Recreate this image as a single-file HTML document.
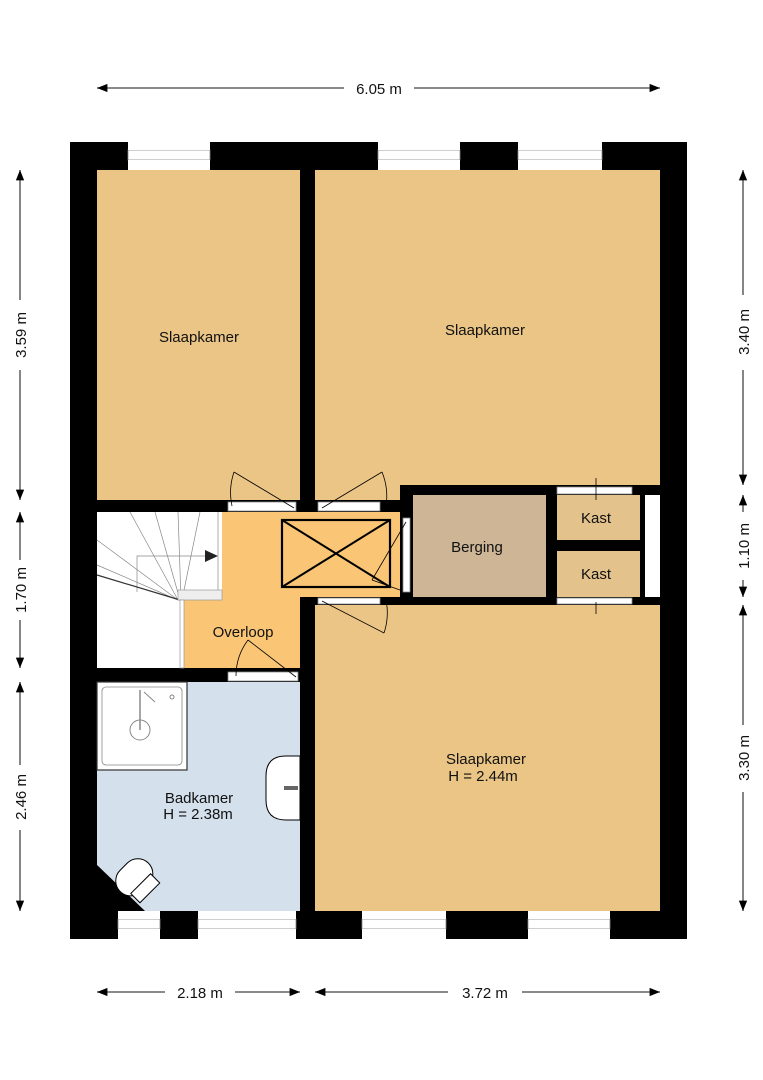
<!DOCTYPE html>
<html><head><meta charset="utf-8"><style>
html,body{margin:0;padding:0;background:#fff;}
svg{display:block;}
text{font-family:"Liberation Sans",sans-serif;}
</style></head><body>
<svg width="763" height="1080" viewBox="0 0 763 1080" xmlns="http://www.w3.org/2000/svg">
<defs>
<marker id="a" viewBox="0 0 10 10" refX="10" refY="5" markerWidth="8" markerHeight="8" orient="auto-start-reverse"><path d="M0,1 L10,5 L0,9 z" fill="#000"/></marker>
</defs>
<rect x="0" y="0" width="763" height="1080" fill="#fff"/>
<rect x="70" y="142" width="617" height="797" fill="#000"/>
<rect x="97" y="170" width="203" height="330" fill="#EBC586"/>
<rect x="315" y="170" width="345" height="315" fill="#EBC586"/>
<rect x="315" y="480" width="85" height="20" fill="#EBC586"/>
<rect x="315" y="605" width="345" height="306" fill="#EBC586"/>
<rect x="97" y="682" width="203" height="229" fill="#D4E0EC"/>
<path d="M222,512 L400,512 L400,597 L300,597 L300,668 L182,668 L182,600 L222,600 Z" fill="#FAC676"/>
<rect x="97" y="512" width="125" height="156" fill="#fff"/>
<rect x="182" y="600" width="118" height="68" fill="#FAC676"/>
<g stroke="#888" stroke-width="0.7" fill="none">
<line x1="130" y1="512" x2="178" y2="600"/><line x1="155" y1="512" x2="180" y2="600"/>
<line x1="178" y1="512" x2="181" y2="600"/><line x1="200" y1="512" x2="182" y2="600"/>
<line x1="97" y1="540" x2="178" y2="600"/><line x1="97" y1="565" x2="178" y2="600"/>
<line x1="218" y1="512" x2="218" y2="598"/>
<polyline points="137,592 137,556 205,556"/>
</g>
<line x1="97" y1="575" x2="180" y2="600" stroke="#333" stroke-width="1.2"/>
<path d="M205,550 L218,556 L205,562 Z" fill="#222"/>
<rect x="178" y="590" width="44" height="10" fill="#eee" stroke="#999" stroke-width="0.7"/>
<rect x="180" y="600" width="4" height="68" fill="#fff" stroke="#999" stroke-width="0.7"/>
<rect x="282" y="520" width="108" height="67" fill="none" stroke="#000" stroke-width="2.2"/>
<line x1="282" y1="520" x2="390" y2="587" stroke="#000" stroke-width="2"/>
<line x1="390" y1="520" x2="282" y2="587" stroke="#000" stroke-width="2"/>
<rect x="413" y="495" width="133" height="102" fill="#CDB595"/>
<rect x="557" y="495" width="83" height="45" fill="#E3C28C"/>
<rect x="557" y="551" width="83" height="46" fill="#E3C28C"/>
<rect x="645" y="495" width="15" height="102" fill="#fff"/>
<g fill="#fff" stroke="#888" stroke-width="0.8">
<rect x="128" y="150" width="82" height="10"/><rect x="378" y="150" width="82" height="10"/><rect x="518" y="150" width="84" height="10"/>
<rect x="118" y="919" width="42" height="10"/><rect x="198" y="919" width="98" height="10"/><rect x="362" y="919" width="84" height="10"/><rect x="528" y="919" width="82" height="10"/>
<rect x="557" y="487" width="75" height="7"/><rect x="557" y="598" width="75" height="6"/>
<rect x="228" y="502" width="68" height="9"/><rect x="318" y="502" width="62" height="9"/>
<rect x="318" y="598" width="62" height="6"/><rect x="228" y="672" width="70" height="9"/>
<rect x="403" y="518" width="7" height="74"/>
</g>
<g fill="#fff">
<rect x="128" y="142" width="82" height="8"/><rect x="128" y="160" width="82" height="10"/>
<rect x="378" y="142" width="82" height="8"/><rect x="378" y="160" width="82" height="10"/>
<rect x="518" y="142" width="84" height="8"/><rect x="518" y="160" width="84" height="10"/>
<rect x="118" y="929" width="42" height="10"/><rect x="198" y="929" width="98" height="10"/><rect x="362" y="929" width="84" height="10"/><rect x="528" y="929" width="82" height="10"/>
<rect x="118" y="911" width="42" height="8"/><rect x="198" y="911" width="98" height="8"/><rect x="362" y="911" width="84" height="8"/><rect x="528" y="911" width="82" height="8"/>
</g>
<g stroke="#000" stroke-width="0.8" fill="none">
<line x1="294" y1="508" x2="234" y2="472"/><path d="M234,472 A64,64 0 0 0 232,506"/>
<line x1="322" y1="508" x2="382" y2="472"/><path d="M382,472 A64,64 0 0 1 386,506"/>
<line x1="322" y1="601" x2="384" y2="633"/><path d="M384,633 A64,64 0 0 0 386,600"/>
<line x1="296" y1="677" x2="248" y2="640"/><path d="M248,640 A60,60 0 0 0 236,676"/>
<line x1="406" y1="522" x2="372" y2="580"/><path d="M372,580 L400,590"/>
<line x1="596" y1="478" x2="596" y2="500"/><line x1="596" y1="602" x2="596" y2="614"/>
</g>
<rect x="97" y="682" width="90" height="88" fill="#fff" stroke="#333" stroke-width="1.2"/>
<rect x="102" y="687" width="80" height="78" rx="4" fill="none" stroke="#888" stroke-width="0.8"/>
<circle cx="140" cy="730" r="10" fill="none" stroke="#888"/>
<line x1="140" y1="690" x2="140" y2="730" stroke="#888" stroke-width="1.5"/>
<line x1="144" y1="692" x2="155" y2="702" stroke="#888"/>
<circle cx="172" cy="697" r="2" fill="none" stroke="#888"/>
<path d="M300,756 L286,756 Q266,756 266,776 L266,800 Q266,820 286,820 L300,820 Z" fill="#fff" stroke="#000" stroke-width="1"/>
<rect x="284" y="786" width="14" height="4" fill="#666"/>
<path d="M97,865 L97,911 L145,911 Z" fill="#000"/>
<g transform="rotate(-45 135 878)">
<rect x="115" y="862" width="40" height="30" rx="15" fill="#fff" stroke="#000"/>
<rect x="121" y="886" width="28" height="13" fill="#fff" stroke="#000"/>
</g>
<g font-size="15" fill="#111" text-anchor="middle">
<text x="199" y="342">Slaapkamer</text>
<text x="485" y="335">Slaapkamer</text>
<text x="477" y="552">Berging</text>
<text x="596" y="523">Kast</text>
<text x="596" y="579">Kast</text>
<text x="243" y="637">Overloop</text>
<text x="486" y="764">Slaapkamer</text>
<text x="483" y="781">H = 2.44m</text>
<text x="199" y="803">Badkamer</text>
<text x="198" y="819">H = 2.38m</text>
</g>
<g stroke="#444" stroke-width="1.3">
<line x1="344" y1="88" x2="97" y2="88" marker-end="url(#a)"/><line x1="414" y1="88" x2="660" y2="88" marker-end="url(#a)"/>
<line x1="165" y1="992" x2="97" y2="992" marker-end="url(#a)"/><line x1="235" y1="992" x2="300" y2="992" marker-end="url(#a)"/>
<line x1="448" y1="992" x2="315" y2="992" marker-end="url(#a)"/><line x1="522" y1="992" x2="660" y2="992" marker-end="url(#a)"/>
<line x1="20" y1="300" x2="20" y2="170" marker-end="url(#a)"/><line x1="20" y1="370" x2="20" y2="500" marker-end="url(#a)"/>
<line x1="20" y1="560" x2="20" y2="512" marker-end="url(#a)"/><line x1="20" y1="620" x2="20" y2="668" marker-end="url(#a)"/>
<line x1="20" y1="765" x2="20" y2="682" marker-end="url(#a)"/><line x1="20" y1="830" x2="20" y2="911" marker-end="url(#a)"/>
<line x1="743" y1="295" x2="743" y2="170" marker-end="url(#a)"/><line x1="743" y1="370" x2="743" y2="485" marker-end="url(#a)"/>
<line x1="743" y1="512" x2="743" y2="495" marker-end="url(#a)"/><line x1="743" y1="580" x2="743" y2="597" marker-end="url(#a)"/>
<line x1="743" y1="725" x2="743" y2="605" marker-end="url(#a)"/><line x1="743" y1="792" x2="743" y2="911" marker-end="url(#a)"/>
</g>
<g font-size="15" fill="#111" text-anchor="middle">
<text x="379" y="94">6.05 m</text>
<text x="200" y="998">2.18 m</text>
<text x="485" y="998">3.72 m</text>
<text transform="translate(26,335) rotate(-90)">3.59 m</text>
<text transform="translate(26,590) rotate(-90)">1.70 m</text>
<text transform="translate(26,797) rotate(-90)">2.46 m</text>
<text transform="translate(749,332) rotate(-90)">3.40 m</text>
<text transform="translate(749,546) rotate(-90)">1.10 m</text>
<text transform="translate(749,758) rotate(-90)">3.30 m</text>
</g>
</svg>
</body></html>
